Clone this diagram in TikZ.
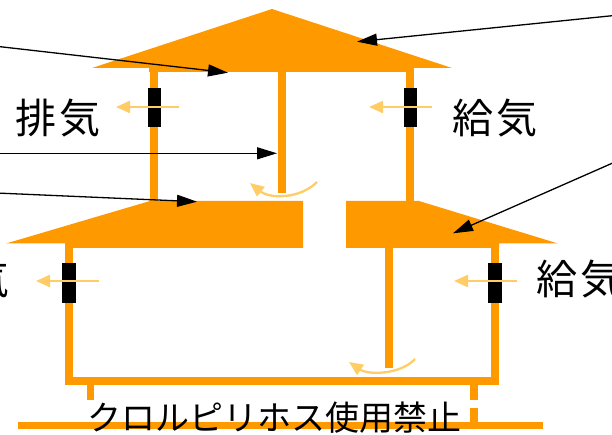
\documentclass[tikz,border=0pt]{standalone}
\usepackage{fontspec}
\newfontfamily\jpfont{Noto Sans CJK JP}
\usetikzlibrary{arrows.meta}
\definecolor{roof}{RGB}{255,153,0}
\definecolor{airflow}{RGB}{255,204,102}
\begin{document}
\begin{tikzpicture}[x=1pt,y=-1pt,
  body/.style={fill=roof,draw=none},
  vent/.style={fill=black,draw=none},
  flow/.style={draw=airflow,line width=2.3pt,-{Triangle[length=14pt,width=12pt]}},
  callout/.style={draw=black,line width=1.3pt,-{Triangle[length=20pt,width=12pt]}},
  airlabel/.style={font=\jpfont\fontsize{41}{41}\selectfont,inner sep=0pt},
  caption/.style={font=\jpfont\fontsize{34}{34}\selectfont,inner sep=0pt}]
\useasboundingbox (0,0) rectangle (612,435);

% upper storey: roof, ceiling, walls, central duct
\fill[body] (92,68) -- (272,9) -- (452,68) -- cycle;
\fill[body] (149,66) rectangle (414,72);
\fill[body] (150,66) rectangle (157.5,203);
\fill[body] (406,66) rectangle (414,203);
\fill[body] (278,70) rectangle (286,193);

% lower storey: split roof, walls, floor, central duct
\fill[body] (6,243.5) -- (150,201) -- (303,201) -- (303,248) -- (65,248) -- (65,243.5) -- cycle;
\fill[body] (346,201) -- (419,201) -- (558,243.5) -- (499,243.5) -- (499,248) -- (346,248) -- cycle;
\fill[body] (65,243) rectangle (73,385);
\fill[body] (491,243) rectangle (499,385);
\fill[body] (65,377) rectangle (499,385);
\fill[body] (385,246) rectangle (393,368);

% foundation posts and ground
\fill[body] (87,385) rectangle (94,400);
\fill[body] (470,385) rectangle (478,400);
\fill[body] (470,408) rectangle (478,422);
\fill[body] (18,422) rectangle (543,429);

% vents
\fill[vent] (147.5,88) rectangle (160.5,127);
\fill[vent] (403.5,88) rectangle (417,127);
\fill[vent] (62,263) rectangle (76,303);
\fill[vent] (488,263) rectangle (501.5,303);

% labels
\node[airlabel] (exhU) at (58,118.5) {排\kern3pt 気};
\node[airlabel] (supU) at (495,118.5) {給\kern3pt 気};
\node[airlabel] (exhL) at (-33,279) {排\kern3pt 気};
\node[airlabel] (supL) at (578.5,279) {給\kern3pt 気};
\node[caption] (ban) at (274,418) {クロルピリホス使用禁止};

% air flow through the vents and ducts
\coordinate (f1a) at (179,107); \coordinate (f1b) at (116,107);
\coordinate (f2a) at (432,107); \coordinate (f2b) at (369,107);
\coordinate (f3a) at (99,281);  \coordinate (f3b) at (36,281);
\coordinate (f4a) at (517,281); \coordinate (f4b) at (454,281);
\draw[flow] (f1a) -- (f1b);
\draw[flow] (f2a) -- (f2b);
\draw[flow] (f3a) -- (f3b);
\draw[flow] (f4a) -- (f4b);
\coordinate (c1a) at (317,182); \coordinate (c1b) at (250,183);
\coordinate (c2a) at (415,359); \coordinate (c2b) at (349,362);
\draw[flow] (c1a) .. controls (300,199) and (270,199) .. (c1b);
\draw[flow] (c2a) .. controls (400,375) and (368,375) .. (c2b);

% callout arrows
\coordinate (s1) at (-20,44.4);  \coordinate (t1) at (228,72.7);
\coordinate (s2) at (-20,153.3); \coordinate (t2) at (277,153.3);
\coordinate (s3) at (-20,192.3); \coordinate (t3) at (197,201.7);
\coordinate (s4) at (632,13.7);  \coordinate (t4) at (357,41.7);
\coordinate (s5) at (632,154.5); \coordinate (t5) at (453,233.3);
\draw[callout] (s1) -- (t1);
\draw[callout] (s2) -- (t2);
\draw[callout] (s3) -- (t3);
\draw[callout] (s4) -- (t4);
\draw[callout] (s5) -- (t5);
\end{tikzpicture}
\end{document}
